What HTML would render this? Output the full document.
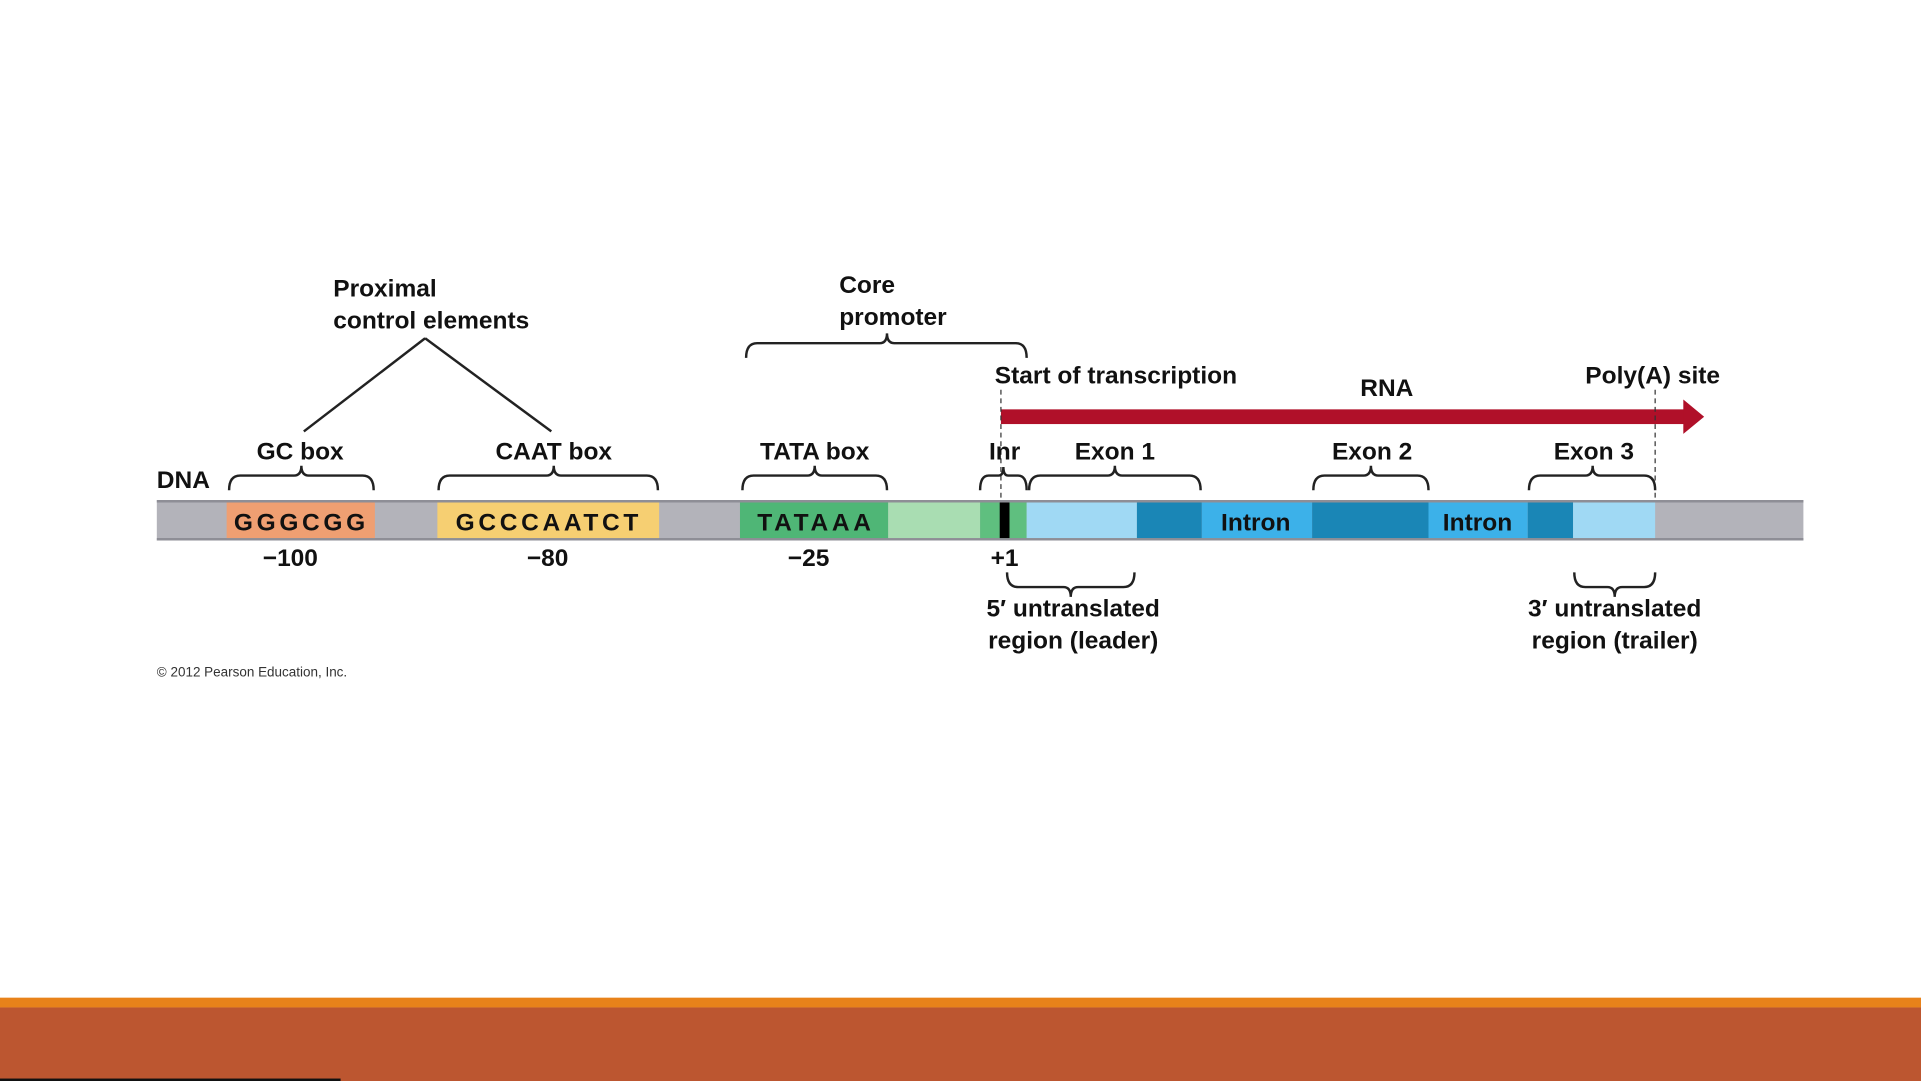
<!DOCTYPE html>
<html><head><style>html,body{margin:0;padding:0;background:#fff;overflow:hidden}svg{display:block}</style></head>
<body>
<svg width="1921" height="1081" viewBox="0 0 1568 882" preserveAspectRatio="none" xmlns="http://www.w3.org/2000/svg" font-family="Liberation Sans Narrow, Liberation Sans, sans-serif" font-weight="bold">
<rect width="1568" height="882" fill="#fff"/>
<!-- DNA bar -->
<rect x="128" y="408" width="1344" height="33" fill="#b3b3ba"/>
<line x1="128" y1="409" x2="1472" y2="409" stroke="#8e8e96" stroke-width="2"/>
<line x1="128" y1="440" x2="1472" y2="440" stroke="#8e8e96" stroke-width="2"/>
<rect x="185" y="410" width="121" height="29" fill="#ef9f72"/>
<rect x="357" y="410" width="181" height="29" fill="#f6cf72"/>
<rect x="604" y="410" width="121" height="29" fill="#4fb676"/>
<rect x="725" y="410" width="75" height="29" fill="#a9ddb2"/>
<rect x="800" y="410" width="38" height="29" fill="#5fbf7f"/>
<rect x="816" y="410" width="8" height="29" fill="#000"/>
<rect x="838" y="410" width="90" height="29" fill="#a0d9f4"/>
<rect x="928" y="410" width="53" height="29" fill="#1a86b6"/>
<rect x="981" y="410" width="90" height="29" fill="#3cb1e9"/>
<rect x="1071" y="410" width="95" height="29" fill="#1a86b6"/>
<rect x="1166" y="410" width="81" height="29" fill="#3cb1e9"/>
<rect x="1247" y="410" width="37" height="29" fill="#1a86b6"/>
<rect x="1284" y="410" width="67" height="29" fill="#a0d9f4"/>
<g font-size="20" fill="#111" letter-spacing="3">
<text x="246" y="433" text-anchor="middle">GGGCGG</text>
<text x="448" y="433" text-anchor="middle">GCCCAATCT</text>
<text x="666" y="433" text-anchor="middle">TATAAA</text>
</g>
<g font-size="20" fill="#111" text-anchor="middle">
<text x="1025" y="433">Intron</text>
<text x="1206" y="433">Intron</text>
</g>
<!-- RNA arrow -->
<rect x="817" y="334" width="560" height="12" fill="#b01029"/>
<polygon points="1374,326 1391,340 1374,354" fill="#b01029"/>
<line x1="817" y1="318" x2="817" y2="408" stroke="#333" stroke-width="1" stroke-dasharray="4,3"/>
<line x1="1351" y1="318" x2="1351" y2="408" stroke="#333" stroke-width="1" stroke-dasharray="4,3"/>
<!-- lines -->
<g stroke="#222" stroke-width="2" fill="none">
<line x1="347" y1="276" x2="248" y2="352"/>
<line x1="347" y1="276" x2="450" y2="352"/>
<path d="M609 292 Q609 280 618 280 L718 280 Q724 280 724 272 Q724 280 730 280 L829 280 Q838 280 838 292"/>
<path d="M187 400 Q187 388 196 388 L240 388 Q246 388 246 380 Q246 388 252 388 L296 388 Q305 388 305 400"/>
<path d="M358 400 Q358 388 367 388 L446 388 Q452 388 452 380 Q452 388 458 388 L528 388 Q537 388 537 400"/>
<path d="M606 400 Q606 388 615 388 L659 388 Q665 388 665 380 Q665 388 671 388 L715 388 Q724 388 724 400"/>
<path d="M800 400 Q800 388 807 388 L815 388 Q819 388 819 381 Q819 388 823 388 L831 388 Q838 388 838 400"/>
<path d="M840 400 Q840 388 849 388 L904 388 Q910 388 910 380 Q910 388 916 388 L971 388 Q980 388 980 400"/>
<path d="M1072 400 Q1072 388 1081 388 L1113 388 Q1119 388 1119 380 Q1119 388 1125 388 L1157 388 Q1166 388 1166 400"/>
<path d="M1248 400 Q1248 388 1257 388 L1294 388 Q1300 388 1300 380 Q1300 388 1306 388 L1342 388 Q1351 388 1351 400"/>
<path d="M822 467 Q822 479 831 479 L868 479 Q874 479 874 487 Q874 479 880 479 L917 479 Q926 479 926 467"/>
<path d="M1285 467 Q1285 479 1294 479 L1312 479 Q1318 479 1318 487 Q1318 479 1324 479 L1342 479 Q1351 479 1351 467"/>
</g>
<g font-size="20" fill="#111">
<text x="272" y="242">Proximal</text>
<text x="272" y="268">control elements</text>
<text x="685" y="239">Core</text>
<text x="685" y="265">promoter</text>
<text x="812" y="313">Start of transcription</text>
<text x="1294" y="313">Poly(A) site</text>
<text x="128" y="398">DNA</text>
</g>
<g font-size="20" fill="#111" text-anchor="middle">
<text x="1132" y="323">RNA</text>
<text x="245" y="375">GC box</text>
<text x="452" y="375">CAAT box</text>
<text x="665" y="375">TATA box</text>
<text x="820" y="375">Inr</text>
<text x="910" y="375">Exon 1</text>
<text x="1120" y="375">Exon 2</text>
<text x="1301" y="375">Exon 3</text>
<text x="237" y="462">−100</text>
<text x="447" y="462">−80</text>
<text x="660" y="462">−25</text>
<text x="820" y="462">+1</text>
<text x="876" y="503">5′ untranslated</text>
<text x="876" y="529">region (leader)</text>
<text x="1318" y="503">3′ untranslated</text>
<text x="1318" y="529">region (trailer)</text>
</g>
<text x="128" y="552" font-size="11" font-weight="normal" fill="#333">© 2012 Pearson Education, Inc.</text>
<!-- bottom bands -->
<rect x="0" y="814" width="1568" height="8" fill="#e8821a"/>
<rect x="0" y="822" width="1568" height="60" fill="#bc5630"/>
<rect x="0" y="880" width="278" height="2" fill="#111"/>
</svg>
</body></html>
